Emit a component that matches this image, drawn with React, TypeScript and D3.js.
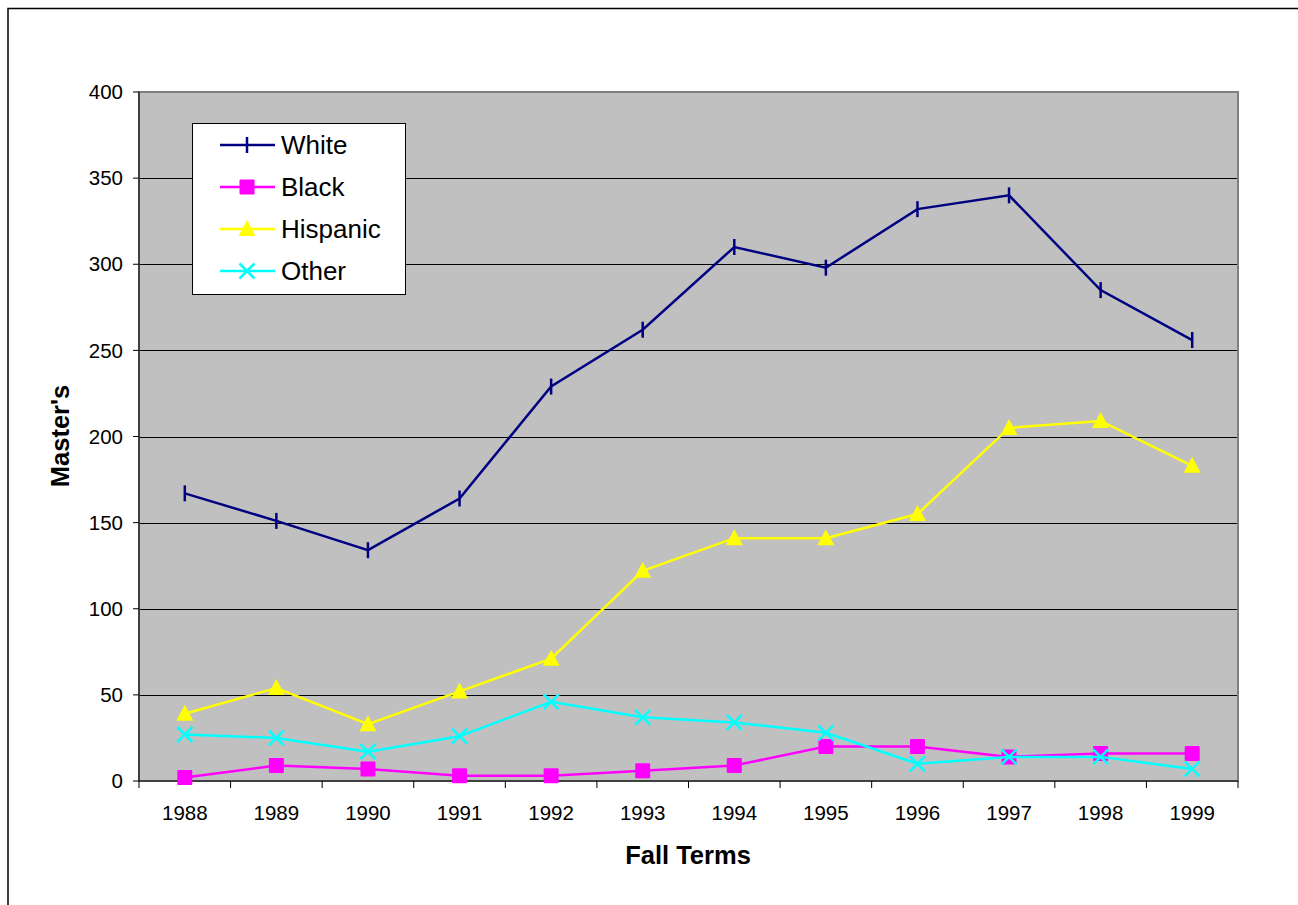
import React from "react";
import * as d3 from "d3";

const years = ["1988","1989","1990","1991","1992","1993","1994","1995","1996","1997","1998","1999"];
const white = [167,151,134,164,229,262,310,298,332,340,285,256];
const black = [2,9,7,3,3,6,9,20,20,14,16,16];
const hispanic = [39,54,33,52,71,122,141,141,155,205,209,183];
const other = [27,25,17,26,46,37,34,28,10,14,14,7];
const yTicks = [0,50,100,150,200,250,300,350,400];

const seriesNames = ["White","Black","Hispanic","Other"];
const seriesColors = ["#000080","#FF00FF","#FFFF00","#00FFFF"];
const seriesMarkers = ["plus","square","triangle","x"];

const W = 1298, H = 905;
const L = 139, R = 1238, T = 92, B = 781;
const FONT = "'Liberation Sans', Arial, sans-serif";

function Marker({ type, x, y, color }: { type: string; x: number; y: number; color: string }) {
  if (type === "plus") {
    return <line x1={x} x2={x} y1={y - 8} y2={y + 8} stroke={color} strokeWidth={2.5} />;
  }
  if (type === "square") {
    return <rect x={x - 7.5} y={y - 7.5} width={15} height={15} rx={1} fill={color} />;
  }
  if (type === "triangle") {
    return <path d={`M${x},${y - 9} L${x + 8.5},${y + 7} L${x - 8.5},${y + 7} Z`} fill={color} />;
  }
  return (
    <g stroke={color} strokeWidth={2.5}>
      <line x1={x - 7.5} y1={y - 7.5} x2={x + 7.5} y2={y + 7.5} />
      <line x1={x - 7.5} y1={y + 7.5} x2={x + 7.5} y2={y - 7.5} />
    </g>
  );
}

export default function App() {
  const x = d3.scaleBand<string>().domain(years).range([L, R]);
  const y = d3.scaleLinear().domain([0, 400]).range([B, T]);
  const data = [white, black, hispanic, other];
  const line = d3.line<number>()
    .x((_, i) => (x(years[i]) as number) + x.bandwidth() / 2)
    .y((d) => y(d));
  const boundaries = years.map((yr) => x(yr) as number).concat([R]);

  return (
    <div style={{ position: "absolute", left: 0, top: 0 }}>
      <svg width={W} height={H} style={{ display: "block", fontFamily: FONT }}>
        <rect x={0} y={0} width={W} height={H} fill="#fff" />
        <rect x={8} y={8.5} width={W + 20} height={H + 20} fill="none" stroke="#000" strokeWidth={1.5} />
        <rect x={L} y={T} width={R - L} height={B - T} fill="#C0C0C0" />
        {yTicks.filter((t) => t > 0 && t < 400).map((t) => (
          <line key={t} x1={L} x2={R} y1={Math.round(y(t)) + 0.5} y2={Math.round(y(t)) + 0.5} stroke="#000" strokeWidth={1} />
        ))}
        <rect x={L} y={T} width={R - L} height={B - T} fill="none" stroke="#808080" strokeWidth={2} />
        <line x1={L} x2={L} y1={T} y2={B} stroke="#000" strokeWidth={1} />
        <line x1={L} x2={R} y1={B} y2={B} stroke="#000" strokeWidth={1} />
        {yTicks.map((t) => (
          <g key={t}>
            <line x1={L - 6} x2={L} y1={y(t)} y2={y(t)} stroke="#000" strokeWidth={1} />
            <text x={123} y={y(t)} dy="0.35em" textAnchor="end" fontSize={20.5} fill="#000">{t}</text>
          </g>
        ))}
        {boundaries.map((bx, i) => (
          <line key={i} x1={bx} x2={bx} y1={B} y2={B + 7} stroke="#000" strokeWidth={1} />
        ))}
        {years.map((yr) => (
          <text key={yr} x={(x(yr) as number) + x.bandwidth() / 2} y={813} dy="0.35em" textAnchor="middle" fontSize={20.5} fill="#000">{yr}</text>
        ))}
        {data.map((vals, si) => (
          <g key={si}>
            <path d={line(vals) || ""} fill="none" stroke={seriesColors[si]} strokeWidth={2.5} />
            {vals.map((v, i) => (
              <Marker key={i} type={seriesMarkers[si]} x={(x(years[i]) as number) + x.bandwidth() / 2} y={y(v)} color={seriesColors[si]} />
            ))}
          </g>
        ))}
        <rect x={192.5} y={123.5} width={213} height={171} fill="#fff" stroke="#000" strokeWidth={1} />
        {seriesNames.map((n, i) => {
          const ly = 145 + i * 42;
          return (
            <g key={n}>
              <line x1={220} x2={275} y1={ly} y2={ly} stroke={seriesColors[i]} strokeWidth={2.5} />
              <Marker type={seriesMarkers[i]} x={247} y={ly} color={seriesColors[i]} />
              <text x={281} y={ly} dy="0.35em" fontSize={26} fill="#000">{n}</text>
            </g>
          );
        })}
        <text x={688} y={855} dy="0.35em" textAnchor="middle" fontSize={25.5} fontWeight="bold" fill="#000">Fall Terms</text>
        <text transform={`translate(60,436) rotate(-90)`} dy="0.35em" textAnchor="middle" fontSize={25.5} fontWeight="bold" fill="#000">Master's</text>
      </svg>
    </div>
  );
}
